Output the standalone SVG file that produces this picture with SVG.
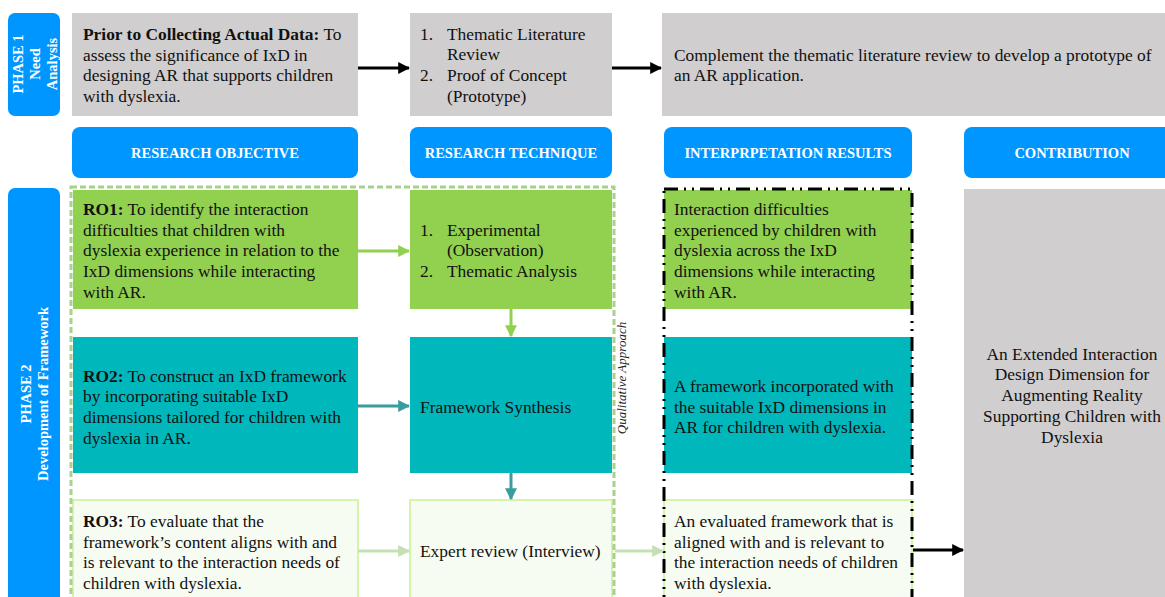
<svg xmlns="http://www.w3.org/2000/svg" width="1165" height="597" viewBox="0 0 1165 597">
  <style>
    .t { font-family: "Liberation Serif", "Times New Roman", serif; font-size: 17.4px; fill: #111; }
    .b { font-weight: bold; }
    .hdr { font-family: "Liberation Serif", "Times New Roman", serif; font-size: 14.5px; font-weight: bold; fill: #fff; text-anchor: middle; }
    .ph { font-family: "Liberation Serif", "Times New Roman", serif; font-size: 14.5px; font-weight: bold; fill: #fff; text-anchor: middle; }
    .blue { fill: #0096FF; }
    .grey { fill: #D0CECE; }
    .green { fill: #92D050; }
    .teal { fill: #00B8BC; }
    .light { fill: #F7FCF2; stroke: #C9F094; stroke-width: 1.5; }
    .conn { fill: none; stroke-width: 3; }
  </style>
  <defs>
    <marker id="ahBlack" viewBox="0 0 10 10" refX="9" refY="5" markerWidth="4" markerHeight="4" orient="auto" markerUnits="strokeWidth">
      <path d="M0,0 L10,5 L0,10 z" fill="#000"/>
    </marker>
    <marker id="ahGreen" viewBox="0 0 10 10" refX="9" refY="5" markerWidth="4" markerHeight="4" orient="auto" markerUnits="strokeWidth">
      <path d="M0,0 L10,5 L0,10 z" fill="#92D050"/>
    </marker>
    <marker id="ahTeal" viewBox="0 0 10 10" refX="9" refY="5" markerWidth="4" markerHeight="4" orient="auto" markerUnits="strokeWidth">
      <path d="M0,0 L10,5 L0,10 z" fill="#3A9C9E"/>
    </marker>
    <marker id="ahLight" viewBox="0 0 10 10" refX="9" refY="5" markerWidth="4" markerHeight="4" orient="auto" markerUnits="strokeWidth">
      <path d="M0,0 L10,5 L0,10 z" fill="#C5E0B4"/>
    </marker>
  </defs>

  <!-- Phase labels -->
  <g id="phase1">
    <rect class="blue" x="8" y="13" width="52" height="103" rx="7"/>
    <text class="ph" transform="translate(34,64) rotate(-90)"><tspan x="0" y="-11">PHASE 1</tspan><tspan x="0" y="6">Need</tspan><tspan x="0" y="23">Analysis</tspan></text>
  </g>
  <g id="phase2">
    <rect class="blue" x="8" y="188" width="52" height="420" rx="7"/>
    <text class="ph" transform="translate(34,394) rotate(-90)"><tspan x="0" y="-3">PHASE 2</tspan><tspan x="0" y="14">Development of Framework</tspan></text>
  </g>

  <!-- Phase 1 row -->
  <g id="prior">
    <rect class="grey" x="72" y="13" width="286" height="103"/>
    <text class="t" x="83" y="40"><tspan class="b">Prior to Collecting Actual Data:</tspan> To</text>
    <text class="t" x="83" y="61">assess the significance of IxD in</text>
    <text class="t" x="83" y="81">designing AR that supports children</text>
    <text class="t" x="83" y="102">with dyslexia.</text>
  </g>
  <g id="literature">
    <rect class="grey" x="410" y="13" width="202" height="103"/>
    <text class="t" x="420" y="40">1.</text><text class="t" x="447" y="40">Thematic Literature</text>
    <text class="t" x="447" y="60">Review</text>
    <text class="t" x="420" y="81">2.</text><text class="t" x="447" y="81">Proof of Concept</text>
    <text class="t" x="447" y="102">(Prototype)</text>
  </g>
  <g id="complement">
    <rect class="grey" x="662" y="13" width="503" height="103"/>
    <text class="t" x="674" y="61">Complement the thematic literature review to develop a prototype of</text>
    <text class="t" x="674" y="81">an AR application.</text>
  </g>

  <!-- Column headers -->
  <g id="hdrObjective">
    <rect class="blue" x="72" y="127" width="286" height="51" rx="8"/>
    <text class="hdr" x="215" y="158">RESEARCH OBJECTIVE</text>
  </g>
  <g id="hdrTechnique">
    <rect class="blue" x="410" y="127" width="202" height="51" rx="8"/>
    <text class="hdr" x="511" y="158">RESEARCH TECHNIQUE</text>
  </g>
  <g id="hdrResults">
    <rect class="blue" x="664" y="127" width="248" height="51" rx="8"/>
    <text class="hdr" x="788" y="158">INTERPRPETATION RESULTS</text>
  </g>
  <g id="hdrContribution">
    <rect class="blue" x="964" y="127" width="210" height="51" rx="8"/>
    <text class="hdr" x="1072" y="158">CONTRIBUTION</text>
  </g>

  <!-- Research objectives -->
  <g id="ro1">
    <rect class="green" x="73" y="190" width="285" height="119"/>
    <text class="t" x="83" y="215"><tspan class="b">RO1:</tspan> To identify the interaction</text>
    <text class="t" x="83" y="236">difficulties that children with</text>
    <text class="t" x="83" y="256">dyslexia experience in relation to the</text>
    <text class="t" x="83" y="277">IxD dimensions while interacting</text>
    <text class="t" x="83" y="298">with AR.</text>
  </g>
  <g id="ro2">
    <rect class="teal" x="73" y="337" width="285" height="136"/>
    <text class="t" x="83" y="382"><tspan class="b">RO2:</tspan> To construct an IxD framework</text>
    <text class="t" x="83" y="402">by incorporating suitable IxD</text>
    <text class="t" x="83" y="423">dimensions tailored for children with</text>
    <text class="t" x="83" y="444">dyslexia in AR.</text>
  </g>
  <g id="ro3">
    <rect class="light" x="73" y="500" width="285" height="110"/>
    <text class="t" x="83" y="527"><tspan class="b">RO3:</tspan> To evaluate that the</text>
    <text class="t" x="83" y="548">framework’s content aligns with and</text>
    <text class="t" x="83" y="568">is relevant to the interaction needs of</text>
    <text class="t" x="83" y="589">children with dyslexia.</text>
  </g>

  <!-- Research techniques -->
  <g id="tech1">
    <rect class="green" x="410" y="190" width="202" height="119"/>
    <text class="t" x="420" y="236">1.</text><text class="t" x="447" y="236">Experimental</text>
    <text class="t" x="447" y="256">(Observation)</text>
    <text class="t" x="420" y="277">2.</text><text class="t" x="447" y="277">Thematic Analysis</text>
  </g>
  <g id="tech2">
    <rect class="teal" x="410" y="337" width="202" height="136"/>
    <text class="t" x="420" y="413">Framework Synthesis</text>
  </g>
  <g id="tech3">
    <rect class="light" x="410" y="500" width="202" height="110"/>
    <text class="t" x="420" y="557">Expert review (Interview)</text>
  </g>

  <!-- Qualitative approach boundary -->
  <g id="qualitative">
    <rect x="71" y="187" width="543" height="430" fill="none" stroke="#A9D18E" stroke-width="3" stroke-dasharray="6 3"/>
    <text transform="translate(626,378) rotate(-90)" text-anchor="middle" font-family="Liberation Serif, serif" font-style="italic" font-size="13" fill="#222">Qualitative Approach</text>
  </g>

  <!-- Interpretation results -->
  <g id="res1">
    <rect class="green" x="664" y="190" width="248" height="119"/>
    <text class="t" x="674" y="215">Interaction difficulties</text>
    <text class="t" x="674" y="236">experienced by children with</text>
    <text class="t" x="674" y="256">dyslexia across the IxD</text>
    <text class="t" x="674" y="277">dimensions while interacting</text>
    <text class="t" x="674" y="298">with AR.</text>
  </g>
  <g id="res2">
    <rect class="teal" x="664" y="337" width="248" height="136"/>
    <text class="t" x="674" y="392">A framework incorporated with</text>
    <text class="t" x="674" y="413">the suitable IxD dimensions in</text>
    <text class="t" x="674" y="433">AR for children with dyslexia.</text>
  </g>
  <g id="res3">
    <rect class="light" x="664" y="500" width="248" height="110"/>
    <text class="t" x="674" y="527">An evaluated framework that is</text>
    <text class="t" x="674" y="548">aligned with and is relevant to</text>
    <text class="t" x="674" y="568">the interaction needs of children</text>
    <text class="t" x="674" y="589">with dyslexia.</text>
  </g>
  <rect id="resultsFrame" x="664" y="189" width="248" height="430" fill="none" stroke="#000" stroke-width="3" stroke-dasharray="14 6 2 6 2 6"/>

  <!-- Contribution -->
  <g id="contribution">
    <rect class="grey" x="964" y="189" width="210" height="420"/>
    <text class="t" text-anchor="middle" x="1072" y="360">An Extended Interaction</text>
    <text class="t" text-anchor="middle" x="1072" y="380">Design Dimension for</text>
    <text class="t" text-anchor="middle" x="1072" y="401">Augmenting Reality</text>
    <text class="t" text-anchor="middle" x="1072" y="422">Supporting Children with</text>
    <text class="t" text-anchor="middle" x="1072" y="443">Dyslexia</text>
  </g>

  <!-- Connectors -->
  <g id="connectors">
    <path class="conn" d="M358,68 L409,68" stroke="#000" marker-end="url(#ahBlack)"/>
    <path class="conn" d="M612,68 L661,68" stroke="#000" marker-end="url(#ahBlack)"/>
    <path class="conn" d="M358,251 L409,251" stroke="#92D050" marker-end="url(#ahGreen)"/>
    <path class="conn" d="M511,309 L511,336" stroke="#92D050" marker-end="url(#ahGreen)"/>
    <path class="conn" d="M358,406 L409,406" stroke="#3A9C9E" marker-end="url(#ahTeal)"/>
    <path class="conn" d="M511,473 L511,499" stroke="#3A9C9E" marker-end="url(#ahTeal)"/>
    <path class="conn" d="M358,551 L409,551" stroke="#C5E0B4" marker-end="url(#ahLight)"/>
    <path class="conn" d="M615,551 L663,551" stroke="#C5E0B4" marker-end="url(#ahLight)"/>
    <path class="conn" d="M913,550 L963,550" stroke="#000" marker-end="url(#ahBlack)"/>
  </g>
</svg>
